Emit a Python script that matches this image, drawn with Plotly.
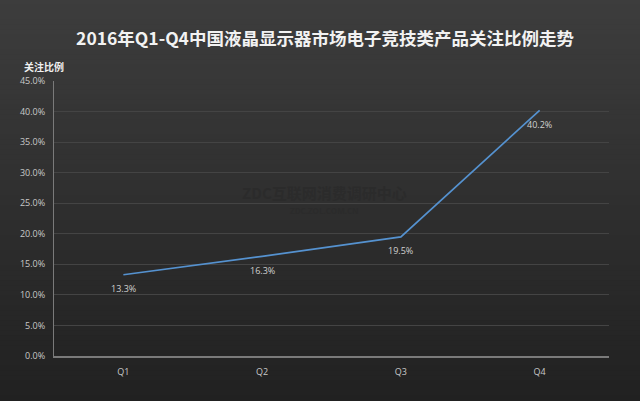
import plotly.graph_objects as go

quarters = ["Q1", "Q2", "Q3", "Q4"]
share = [13.3, 16.3, 19.5, 40.2]
labels = ["13.3%", "16.3%", "19.5%", "40.2%"]
y_ticks = [0, 5, 10, 15, 20, 25, 30, 35, 40, 45]

W, H = 640, 401
L, R, T, B = 54, 31, 81, 45
pw, ph = W - L - R, H - T - B


def px(x):
    return (x - L) / pw


def py(y):
    return (H - B - y) / ph


fig = go.Figure()
fig.add_trace(go.Scatter(
    x=quarters, y=share, mode="lines",
    line=dict(color="#5592d0", width=1.7),
    hoverinfo="skip", showlegend=False,
))

# vertical gradient background
shapes = []
n = 80
top = (61, 61, 61)
bot = (33, 33, 33)
for i in range(n):
    t = (i + 0.5) / n
    c = tuple(round(top[k] + (bot[k] - top[k]) * t) for k in range(3))
    y_top = i * H / n
    y_bot = (i + 1) * H / n
    shapes.append(dict(type="rect", xref="paper", yref="paper",
                       x0=px(-5), x1=px(W + 5),
                       y0=py(y_bot) - 0.002, y1=py(y_top) + 0.002,
                       fillcolor="rgb(%d,%d,%d)" % c, line=dict(width=0),
                       layer="below"))

annotations = [
    dict(text="<b>关注比例</b>", x=px(22), y=py(67), xref="paper", yref="paper",
         xanchor="left", yanchor="middle", showarrow=False,
         font=dict(family="Noto Sans CJK SC", size=10, color="#f0f0f0")),
    dict(text="<b>ZDC互联网消费调研中心</b>", x=px(324), y=py(192), xref="paper", yref="paper",
         xanchor="center", yanchor="middle", showarrow=False,
         font=dict(family="Noto Sans CJK SC", size=15, color="#2b2b2b")),
    dict(text="<b>ZDC.ZOL.COM.CN</b>", x=px(324), y=py(210), xref="paper", yref="paper",
         xanchor="center", yanchor="middle", showarrow=False,
         font=dict(family="Open Sans", size=8, color="#2b2b2b")),
]
for q, v, lab in zip(quarters, share, labels):
    annotations.append(dict(
        text=lab, x=q, y=v, xref="x", yref="y", showarrow=False,
        xanchor="center", yanchor="middle", yshift=-14,
        font=dict(family="Open Sans", size=9, color="#d0d0d0")))

fig.update_layout(
    width=W, height=H,
    margin=dict(l=L, r=R, t=T, b=B, pad=0),
    paper_bgcolor="#2e2e2e", plot_bgcolor="rgba(0,0,0,0)",
    title=dict(text="<b>2016年Q1-Q4中国液晶显示器市场电子竞技类产品关注比例走势</b>",
               x=px(325), xanchor="center", xref="paper",
               y=1 - 39 / H, yanchor="middle", yref="container",
               font=dict(family="Noto Sans CJK SC", size=17.5, color="#f2f2f2")),
    shapes=shapes, annotations=annotations,
    xaxis=dict(type="category", range=[-0.5, 3.5], showgrid=False,
               showline=True, linecolor="#7a7a7a", linewidth=2,
               ticks="outside", ticklen=6, tickcolor="rgba(0,0,0,0)",
               tickfont=dict(family="Open Sans", size=9, color="#c8c8c8"),
               fixedrange=True, zeroline=False),
    yaxis=dict(range=[0, 45], tickvals=y_ticks, ticktext=["%.1f%%" % v for v in y_ticks],
               showgrid=True, gridcolor="#444444", gridwidth=1,
               showline=True, linecolor="#7a7a7a", linewidth=1,
               ticks="outside", ticklen=6, tickcolor="rgba(0,0,0,0)",
               tickfont=dict(family="Open Sans", size=9, color="#c8c8c8"),
               zeroline=False, fixedrange=True),
)

fig.write_html("out.html")
